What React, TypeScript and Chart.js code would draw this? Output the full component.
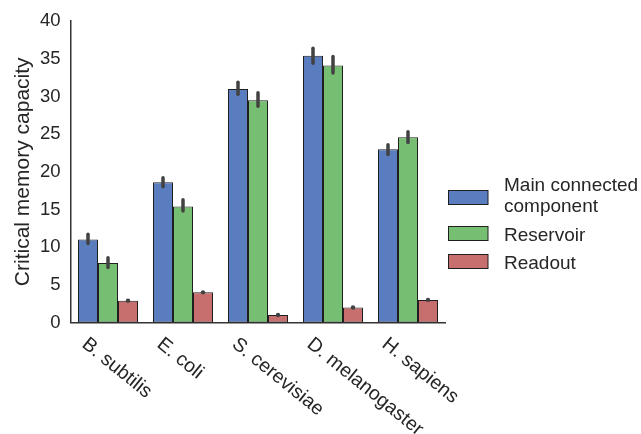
import React, { useEffect, useRef } from 'react';
import { Chart, registerables } from 'chart.js';

Chart.register(...registerables);

const categories = ['B. subtilis', 'E. coli', 'S. cerevisiae', 'D. melanogaster', 'H. sapiens'];
const seriesNames = ['Main connected\ncomponent', 'Reservoir', 'Readout'];
const mainValues = [11.0, 18.6, 31.0, 35.4, 23.0];
const reservoirValues = [7.9, 15.4, 29.5, 34.1, 24.6];
const readoutValues = [2.9, 4.0, 1.0, 2.0, 3.0];
const mainLow = [10.5, 18.0, 30.3, 34.4, 22.3];
const mainHigh = [11.7, 19.2, 31.9, 36.4, 23.6];
const reservoirLow = [7.3, 14.8, 28.7, 33.1, 23.9];
const reservoirHigh = [8.6, 16.3, 30.5, 35.3, 25.3];
const readoutLow = [2.9, 4.0, 1.0, 2.0, 3.0];
const readoutHigh = [2.9, 4.0, 1.0, 2.0, 3.0];
const yTicks = [0, 5, 10, 15, 20, 25, 30, 35, 40];
const yTitle = 'Critical memory capacity';

const colors = ['#597dbe', '#76bf72', '#c76e6e'];
const FONT = '"Liberation Sans", Arial, sans-serif';
const TEXT = '#262626';

const errorLows = [mainLow, reservoirLow, readoutLow];
const errorHighs = [mainHigh, reservoirHigh, readoutHigh];

const customPlugin = {
  id: 'custom',
  afterDatasetsDraw(chart: any) {
    const ctx = chart.ctx;
    const y = chart.scales.y;
    ctx.save();
    ctx.strokeStyle = '#424242';
    ctx.fillStyle = '#424242';
    ctx.lineWidth = 3.5;
    ctx.lineCap = 'round';
    chart.data.datasets.forEach((_: any, i: number) => {
      const meta = chart.getDatasetMeta(i);
      meta.data.forEach((bar: any, j: number) => {
        const y1 = y.getPixelForValue(errorLows[i][j]);
        const y2 = y.getPixelForValue(errorHighs[i][j]);
        if (Math.abs(y1 - y2) < 1) {
          ctx.beginPath();
          ctx.arc(bar.x, (y1 + y2) / 2, 2.2, 0, Math.PI * 2);
          ctx.fill();
        } else {
          ctx.beginPath();
          ctx.moveTo(bar.x, y1);
          ctx.lineTo(bar.x, y2);
          ctx.stroke();
        }
      });
    });
    ctx.restore();
  },
  afterDraw(chart: any) {
    const ctx = chart.ctx;
    const xs = chart.scales.x;
    const area = chart.chartArea;
    ctx.save();
    // x labels, rotated
    ctx.fillStyle = TEXT;
    ctx.font = `19.5px ${FONT}`;
    ctx.textAlign = 'left';
    ctx.textBaseline = 'alphabetic';
    categories.forEach((c, i) => {
      const px = xs.getPixelForValue(i);
      ctx.save();
      ctx.translate(px - 27, 346);
      ctx.rotate((39 * Math.PI) / 180);
      ctx.fillText(c, 0, 0);
      ctx.restore();
    });
    // y title
    ctx.save();
    ctx.font = `21px ${FONT}`;
    ctx.textAlign = 'center';
    ctx.translate(28.5, (area.top + area.bottom) / 2);
    ctx.rotate(-Math.PI / 2);
    ctx.fillText(yTitle, 0, 0);
    ctx.restore();
    // legend
    ctx.font = `19px ${FONT}`;
    const boxes = [
      { top: 190.5, baselines: [191, 212] },
      { top: 226.5, baselines: [241] },
      { top: 254.5, baselines: [268.5] },
    ];
    chart.data.datasets.forEach((ds: any, i: number) => {
      const b = boxes[i];
      ctx.fillStyle = ds.backgroundColor;
      ctx.fillRect(448.5, b.top, 39.5, 14);
      ctx.strokeStyle = '#1f1f1f';
      ctx.lineWidth = 1;
      ctx.strokeRect(448.5, b.top, 39.5, 14);
      ctx.fillStyle = TEXT;
      const lines = String(seriesNames[i]).split('\n');
      lines.forEach((ln, k) => ctx.fillText(ln, 504, b.baselines[k]));
    });
    ctx.restore();
  },
};

export default function App() {
  const ref = useRef<HTMLCanvasElement>(null);
  useEffect(() => {
    if (!ref.current) return;
    const chart = new Chart(ref.current, {
      type: 'bar',
      data: {
        labels: categories,
        datasets: [
          { label: seriesNames[0], data: mainValues, backgroundColor: colors[0] },
          { label: seriesNames[1], data: reservoirValues, backgroundColor: colors[1] },
          { label: seriesNames[2], data: readoutValues, backgroundColor: colors[2] },
        ].map((d) => ({
          ...d,
          borderColor: '#1f1f1f',
          borderWidth: 1,
          borderSkipped: false,
          categoryPercentage: 0.8,
          barPercentage: 1.0,
        })),
      },
      options: {
        animation: false,
        responsive: false,
        maintainAspectRatio: false,
        layout: { padding: { left: 0, right: 195.5, top: 19.5, bottom: 0 } },
        plugins: { legend: { display: false }, tooltip: { enabled: false }, title: { display: false } },
        scales: {
          x: {
            grid: { display: false, drawTicks: false },
            border: { display: true, color: '#333333', width: 1.5 },
            ticks: { display: false },
            afterFit: (s: any) => { s.height = 434 - 322.5; },
          },
          y: {
            min: 0,
            max: 40,
            grid: { display: false, drawTicks: false },
            border: { display: true, color: '#333333', width: 1.5 },
            afterBuildTicks: (s: any) => { s.ticks = yTicks.map((v) => ({ value: v })); },
            ticks: {
              padding: 10,
              color: TEXT,
              font: { size: 18.5, family: FONT },
            },
            afterFit: (s: any) => { s.width = 70.5; },
          },
        },
      },
      plugins: [customPlugin],
    });
    return () => chart.destroy();
  }, []);
  return (
    <div style={{ position: 'fixed', left: 0, top: 0, width: 641, height: 434, background: '#fff' }}>
      <canvas ref={ref} width={641} height={434} style={{ display: 'block', width: 641, height: 434 }} />
    </div>
  );
}
